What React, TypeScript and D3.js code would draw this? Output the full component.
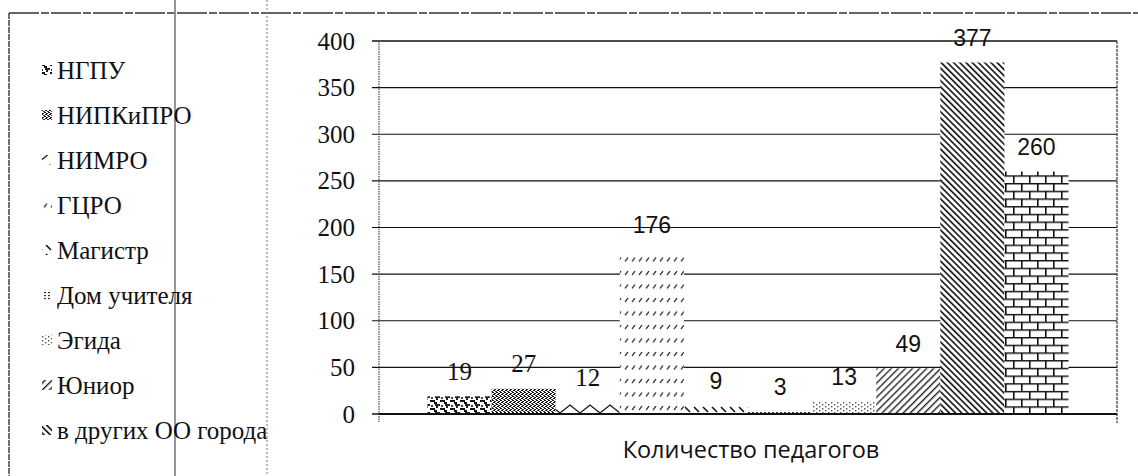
import React from 'react';
import * as d3 from 'd3';

// ---------- data ----------
const categories = ['Количество педагогов'];
const legendNames = [
  'НГПУ',
  'НИПКиПРО',
  'НИМРО',
  'ГЦРО',
  'Магистр',
  'Дом учителя',
  'Эгида',
  'Юниор',
  'в других ОО города',
];
// ten bars are drawn; the legend of the original shows only the first nine
const values = [19, 27, 12, 176, 9, 3, 13, 49, 377, 260];
const yTicks = [0, 50, 100, 150, 200, 250, 300, 350, 400];

// ---------- layout ----------
const W = 1138;
const H = 476;
const plotLeft = 379;
const plotRight = 1117;
const plotTop = 41;
const plotBottom = 414;
const SERIF_ASC = 20.9; // baseline offset for 25px Liberation Serif with line-height 25px

function Patterns() {
  return (
    <defs>
      <pattern id="p0" patternUnits="userSpaceOnUse" width="10" height="8">
        <rect width="10" height="8" fill="#fff" />
        <path d="M0,0h5v2h2v2h-3v-2h-4z" fill="#111" />
        <path d="M5,4h5v2h-2v2h-2v-2h-1z" fill="#222" />
        <rect x="1" y="5" width="2" height="2" fill="#444" />
      </pattern>
      <pattern id="p1" patternUnits="userSpaceOnUse" width="4" height="4">
        <rect width="4" height="4" fill="#fff" />
        <rect x="0" y="0" width="2" height="1" fill="#111" />
        <rect x="2" y="1" width="2" height="1" fill="#222" />
        <rect x="1" y="2" width="2" height="1" fill="#111" />
        <rect x="3" y="3" width="1" height="1" fill="#333" />
        <rect x="0" y="3" width="1" height="1" fill="#333" />
      </pattern>
      <pattern id="p2" patternUnits="userSpaceOnUse" width="20" height="12" y={plotBottom}>
        <rect width="20" height="12" fill="#fff" />
        <path d="M0,11 L10,3 L20,11" fill="none" stroke="#111" strokeWidth="1.3" />
      </pattern>
      <pattern id="p3" patternUnits="userSpaceOnUse" width="7" height="13.5">
        <rect width="7" height="13.5" fill="#fff" />
        <path d="M2,5 L5,1" stroke="#222" strokeWidth="1.2" />
      </pattern>
      <pattern id="p4" patternUnits="userSpaceOnUse" width="9" height="9" y={plotBottom}>
        <rect width="9" height="9" fill="#fff" />
        <path d="M1,2 L6,7" stroke="#111" strokeWidth="1.6" />
      </pattern>
      <pattern id="p5" patternUnits="userSpaceOnUse" width="4" height="3">
        <rect width="4" height="3" fill="#fff" />
        <rect x="0" y="1" width="2" height="1.2" fill="#333" />
      </pattern>
      <pattern id="p6" patternUnits="userSpaceOnUse" width="6" height="4">
        <rect width="6" height="4" fill="#fff" />
        <rect x="0" y="0" width="1.4" height="1.4" fill="#555" />
        <rect x="3" y="2" width="1.4" height="1.4" fill="#555" />
      </pattern>
      <pattern id="p7" patternUnits="userSpaceOnUse" width="5" height="5" patternTransform="rotate(45)">
        <rect width="5" height="5" fill="#fff" />
        <rect x="0" y="0" width="1.4" height="5" fill="#222" />
      </pattern>
      <pattern id="p8" patternUnits="userSpaceOnUse" width="4.4" height="4.4" patternTransform="rotate(-45)">
        <rect width="4.4" height="4.4" fill="#fff" />
        <rect x="0" y="0" width="1.6" height="4.4" fill="#111" />
      </pattern>
      <pattern id="p9" patternUnits="userSpaceOnUse" width="16" height="15.4" x="1005" y={plotBottom}>
        <rect width="16" height="15.4" fill="#fff" />
        <path d="M0,0.7 H16 M0,8.4 H16 M0.8,0 V7.7 M8.8,7.7 V15.4" stroke="#111" strokeWidth="1.6" fill="none" />
      </pattern>
    </defs>
  );
}

const serifDiv: React.CSSProperties = {
  position: 'absolute',
  fontFamily: "'Liberation Serif'",
  fontSize: '25px',
  lineHeight: '25px',
  color: '#111',
  whiteSpace: 'nowrap',
};

export default function App() {
  const y = d3.scaleLinear().domain([0, 400]).range([plotBottom, plotTop]);
  const xOuter = d3.scaleBand<string>().domain(categories).range([plotLeft, plotRight]).padding(0.0703);
  const xInner = d3
    .scaleBand<number>()
    .domain(values.map((_, i) => i))
    .range([0, xOuter.bandwidth()])
    .padding(0);

  const cat = categories[0];
  const gx = xOuter(cat) as number;
  const legendY = d3.scalePoint<number>().domain(legendNames.map((_, i) => i)).range([70, 430]);

  return (
    <div style={{ position: 'absolute', left: 0, top: 0, width: W, height: H, background: '#fff' }}>
      <svg width={W} height={H} style={{ position: 'absolute', left: 0, top: 0 }}>
        <Patterns />
        <rect width={W} height={H} fill="#fff" />

        {/* page/table lines from the scan */}
        <line x1={9} y1={13} x2={W} y2={13} stroke="#333" strokeWidth={1.4} strokeDasharray="30 2 8 2" />
        <line x1={9} y1={13} x2={9} y2={H} stroke="#333" strokeWidth={1.4} strokeDasharray="6 1" />
        <line x1={175} y1={0} x2={175} y2={H} stroke="#8a8a8a" strokeWidth={1.8} />
        <line x1={267} y1={0} x2={267} y2={H} stroke="#777" strokeWidth={1} strokeDasharray="2 2" />

        {/* gridlines */}
        {yTicks.map((t) => (
          <line
            key={'g' + t}
            x1={plotLeft - 7}
            x2={plotRight}
            y1={y(t)}
            y2={y(t)}
            stroke="#111"
            strokeWidth={t === 0 || t === 400 ? 1.6 : 1.2}
          />
        ))}

        {/* bars */}
        {values.map((v, i) => (
          <rect
            key={'b' + i}
            x={gx + (xInner(i) as number)}
            y={y(v)}
            width={xInner.bandwidth()}
            height={y(0) - y(v)}
            fill={`url(#p${i})`}
          />
        ))}

        {/* axes */}
        <line x1={plotLeft} x2={plotLeft} y1={plotTop} y2={plotBottom + 8} stroke="#444" strokeWidth={1.2} strokeDasharray="1.5 1" />
        <line x1={plotRight} x2={plotRight} y1={plotTop} y2={plotBottom + 9} stroke="#333" strokeWidth={1.2} strokeDasharray="3 1" />
        <line x1={plotLeft} x2={plotRight} y1={plotBottom} y2={plotBottom} stroke="#111" strokeWidth={1.8} />

        {/* sans value labels */}
        {values.map((v, i) => {
          if (i < 3) return null;
          const cx = gx + (xInner(i) as number) + xInner.bandwidth() / 2;
          return (
            <text
              key={'v' + i}
              x={cx}
              y={y(v) - 25 + 8.5}
              textAnchor="middle"
              fontFamily="Liberation Sans"
              fontSize={23}
              fill="#111"
            >
              {v}
            </text>
          );
        })}

        {/* category title */}
        <text x={(gx + gx + xOuter.bandwidth()) / 2 + 3} y={458} textAnchor="middle" fontFamily="Open Sans" fontSize={23.5} fill="#111">
          {cat}
        </text>

        {/* legend swatches */}
        {legendNames.map((name, i) => {
          const cy = legendY(i) as number;
          return <rect key={'s' + name} x={42} y={cy - 5} width={10} height={10} fill={`url(#p${i})`} />;
        })}
      </svg>

      {/* serif texts as HTML overlay */}
      {yTicks.map((t) => (
        <div key={'t' + t} style={{ ...serifDiv, right: W - 355, top: y(t) + 8.5 - SERIF_ASC, textAlign: 'right' }}>
          {t}
        </div>
      ))}
      {values.map((v, i) => {
        if (i >= 3) return null;
        const cx = gx + (xInner(i) as number) + xInner.bandwidth() / 2;
        return (
          <div
            key={'sv' + i}
            style={{ ...serifDiv, left: cx - 40, width: 80, textAlign: 'center', top: y(v) - 25 + 8.5 - SERIF_ASC }}
          >
            {v}
          </div>
        );
      })}
      {legendNames.map((name, i) => {
        const cy = legendY(i) as number;
        return (
          <div key={'l' + name} style={{ ...serifDiv, left: 57, top: cy + 8.5 - SERIF_ASC }}>
            {name}
          </div>
        );
      })}
    </div>
  );
}
